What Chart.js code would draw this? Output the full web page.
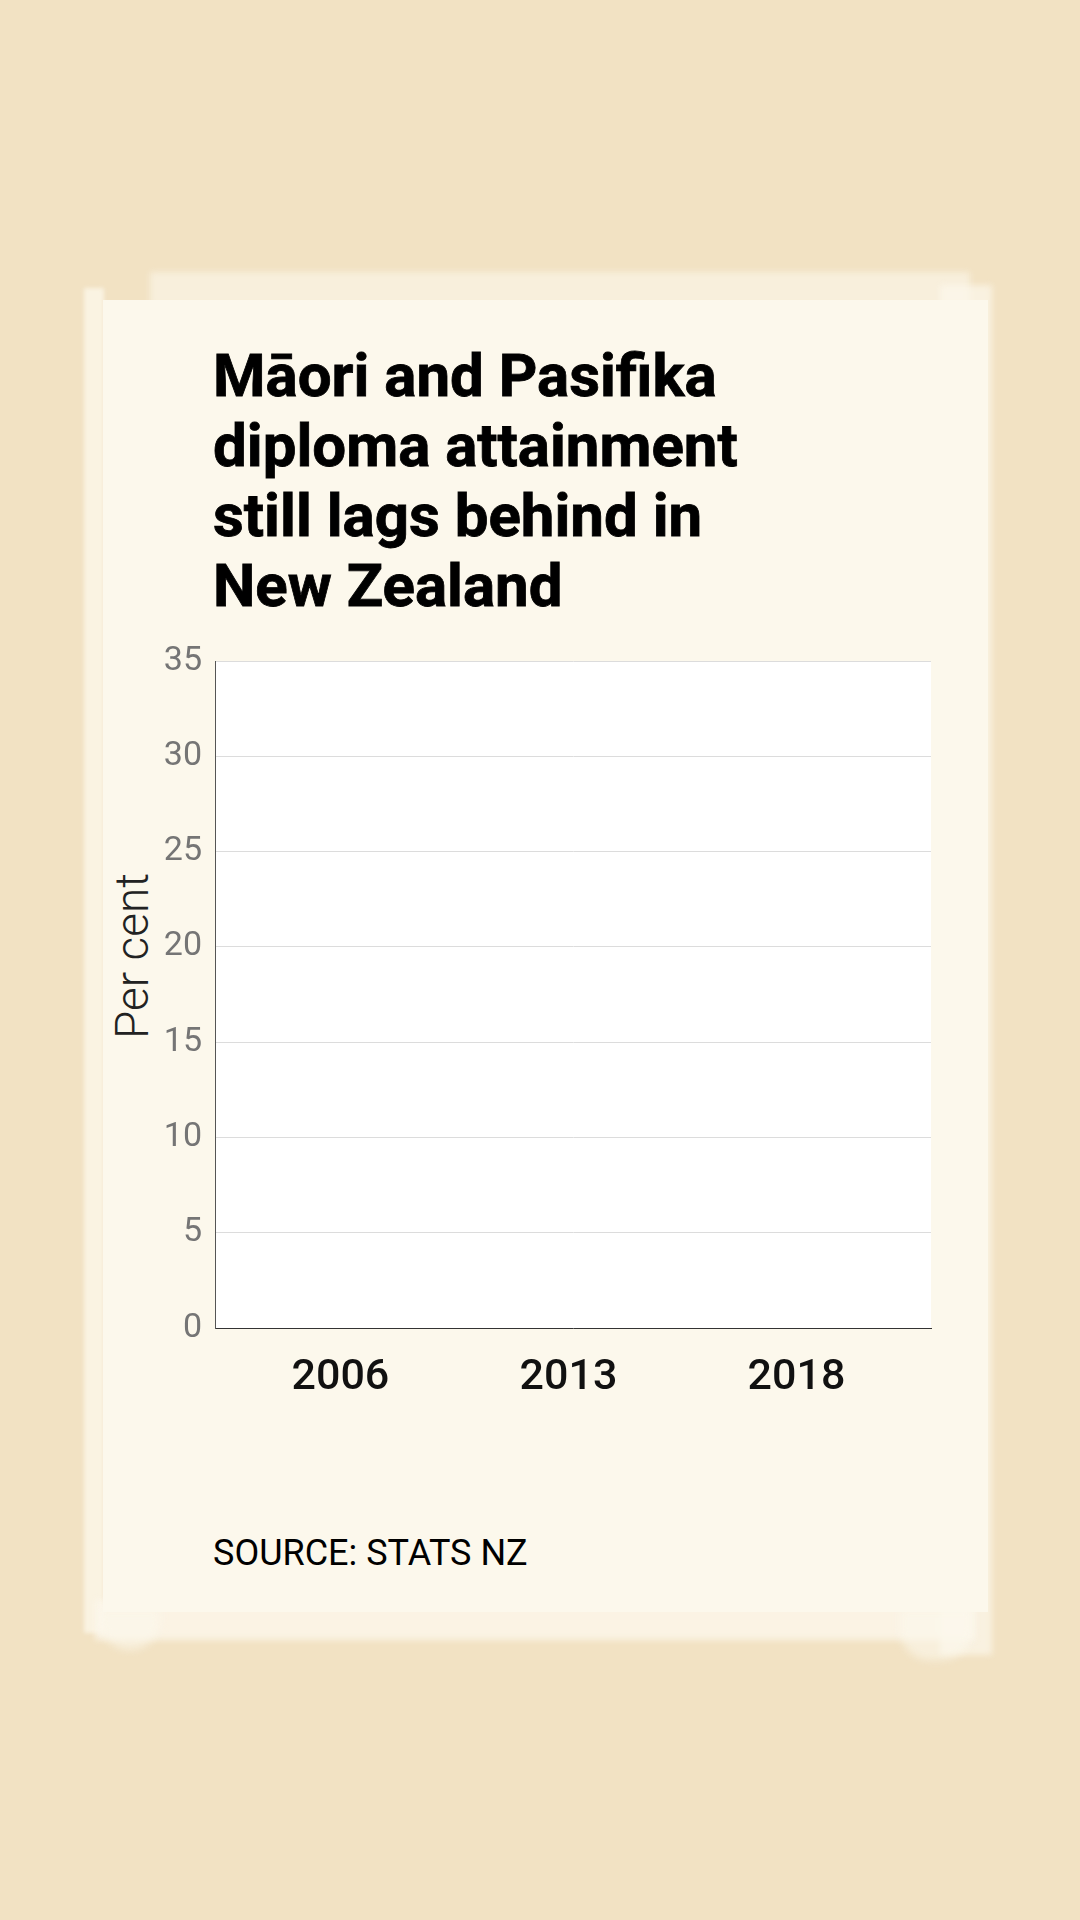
<!DOCTYPE html>
<html>
<head>
<meta charset="utf-8">
<script src="https://cdn.jsdelivr.net/npm/chart.js@4"></script>
<style>
  html, body { margin: 0; padding: 0; }
  body { width: 1080px; height: 1920px; background: #f2e2c3; position: relative; overflow: hidden; font-family: Roboto, sans-serif; }
  .paper { position: absolute; background: #fcf8ec; }
  .p1 { left: 103px; top: 300px; width: 885px; height: 1312px; }
  .p2 { left: 84px; top: 288px; width: 20px; height: 1345px; background: rgba(252,248,236,0.75); filter: blur(2px); }
  .p3 { left: 150px; top: 272px; width: 820px; height: 34px; background: rgba(252,248,236,0.6); filter: blur(3px); }
  .p4 { left: 940px; top: 285px; width: 52px; height: 1370px; background: rgba(252,248,236,0.7); filter: blur(3px); }
  .p5 { left: 95px; top: 1600px; width: 880px; height: 40px; background: rgba(252,248,236,0.8); filter: blur(3px); }
  .p6 { left: 900px; top: 1610px; width: 72px; height: 50px; background: rgba(252,248,236,0.6); filter: blur(4px); border-radius: 0 0 30px 30px; }
  .p7 { left: 100px; top: 1610px; width: 60px; height: 40px; background: rgba(252,248,236,0.6); filter: blur(4px); border-radius: 0 0 30px 30px; }
  #title { position: absolute; left: 213px; top: 341px; margin: 0; font-weight: 700; font-size: 60px; line-height: 70px; color: #000; white-space: nowrap; -webkit-text-stroke: 0.8px #000; }
  #source { position: absolute; left: 213px; top: 1532px; font-size: 36px; line-height: 42px; color: #000; }
  #ylab { position: absolute; left: 132px; top: 956px; transform: translate(-50%, -50%) rotate(-90deg); font-weight: 300; font-size: 46px; color: #222; white-space: nowrap; }
  #wrap { position: absolute; left: 0; top: 600px; width: 1080px; height: 820px; }
</style>
</head>
<body>
<div class="paper p2"></div>
<div class="paper p3"></div>
<div class="paper p4"></div>
<div class="paper p5"></div>
<div class="paper p6"></div>
<div class="paper p7"></div>
<div class="paper p1"></div>

<h1 id="title">Māori and Pasifika<br>diploma attainment<br>still lags behind in<br>New Zealand</h1>
<div id="ylab">Per cent</div>
<div id="wrap"><canvas id="chart"></canvas></div>
<div id="source">SOURCE: STATS NZ</div>

<script>
// categories and tick values
const years = ['2006', '2013', '2018'];
const yTicks = [0, 5, 10, 15, 20, 25, 30, 35];
// no bars are visible in the reference, so the series are empty
const maoriValues = [null, null, null];
const pasifikaValues = [null, null, null];

const toPoints = vals => vals.map((v, i) => ({ x: i, y: v }));

const plotBg = {
  id: 'plotBg',
  beforeDraw(chart) {
    const { ctx, chartArea: a } = chart;
    ctx.save();
    ctx.fillStyle = '#ffffff';
    ctx.fillRect(a.left, a.top, a.right - a.left, a.bottom - a.top);
    ctx.restore();
  }
};

new Chart(document.getElementById('chart'), {
  type: 'bar',
  data: {
    datasets: [
      { label: 'Māori', data: toPoints(maoriValues), backgroundColor: '#b5523b' },
      { label: 'Pasifika', data: toPoints(pasifikaValues), backgroundColor: '#2d6b8f' }
    ]
  },
  options: {
    responsive: true,
    maintainAspectRatio: false,
    animation: false,
    layout: { padding: { top: 61, right: 149, bottom: 2, left: 0 } },
    plugins: { legend: { display: false }, tooltip: { enabled: false } },
    scales: {
      x: {
        type: 'linear',
        offset: false,
        min: -0.55,
        max: 2.59,
        afterBuildTicks(s) { s.ticks = years.map((y, i) => ({ value: i })); },
        grid: { display: false, drawTicks: false, offset: false },
        border: { color: '#333333', width: 1 },
        ticks: {
          color: '#111111', padding: 24, maxRotation: 0,
          font: { family: 'Roboto', size: 43, weight: 500 },
          callback: v => years[v]
        },
        afterFit(s) { s.height = 90; }
      },
      y: {
        min: 0,
        max: 35,
        afterBuildTicks(s) { s.ticks = yTicks.map(v => ({ value: v })); },
        grid: { color: '#dcdcdc', drawTicks: false },
        border: { color: '#555555', width: 1 },
        ticks: { color: '#757575', padding: 13, font: { family: 'Roboto', size: 34 } },
        afterFit(s) { s.width = 215; }
      }
    }
  },
  plugins: [plotBg]
});
</script>
</body>
</html>
